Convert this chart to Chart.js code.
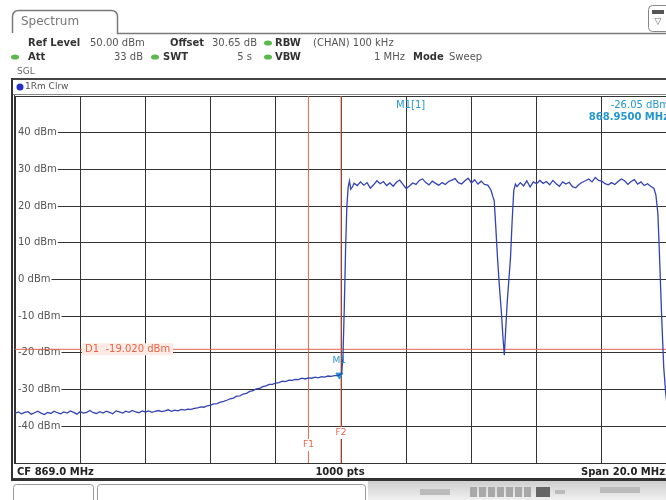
<!DOCTYPE html>
<html>
<head>
<meta charset="utf-8">
<script src="https://cdn.jsdelivr.net/npm/chart.js@4.4.0/dist/chart.umd.min.js"></script>
<style>
  html, body { margin: 0; padding: 0; background: #fff; overflow: hidden; width: 666px; height: 500px; }
  #wrap { width: 672px; height: 500px; }
</style>
</head>
<body>
<div id="wrap"><canvas id="spec" width="672" height="500"></canvas></div>
<script>
// axis setup (CF 869 MHz, span 20 MHz, ref level 50 dBm)
const freqMin = 859, freqMax = 879, freqStep = 2;
const levelMin = -50, levelMax = 50, levelStep = 10;
const yTickLabels = [40, 30, 20, 10, 0, -10, -20, -30, -40];

// markers / lines
const m1Freq = 868.95, m1Level = -26.05;
const d1Level = -19.02;
const f1Freq = 868.0, f2Freq = 869.0;

// trace 1
const traceFreq = [
  859.0, 859.1, 859.2, 859.3, 859.4, 859.5, 859.6, 859.7, 859.8, 859.9,
  860.0, 860.1, 860.2, 860.3, 860.4, 860.5, 860.6, 860.7, 860.8, 860.9,
  861.0, 861.1, 861.2, 861.3, 861.4, 861.5, 861.6, 861.7, 861.8, 861.9,
  862.0, 862.1, 862.2, 862.3, 862.4, 862.5, 862.6, 862.7, 862.8, 862.9,
  863.0, 863.1, 863.2, 863.3, 863.4, 863.5, 863.6, 863.7, 863.8, 863.9,
  864.0, 864.1, 864.2, 864.3, 864.4,
  864.5, 864.6, 864.7, 864.8, 864.9, 865.0, 865.1, 865.2, 865.3, 865.4,
  865.5, 865.6, 865.7, 865.8, 865.9, 866.0, 866.1, 866.2, 866.3, 866.4,
  866.5, 866.6, 866.7, 866.8, 866.9, 867.0, 867.1, 867.2, 867.3, 867.4,
  867.5, 867.6, 867.7, 867.8, 867.9, 868.0, 868.1, 868.2, 868.3, 868.4,
  868.5, 868.6, 868.7, 868.8, 868.9,
  868.95, 869.02, 869.06, 869.1, 869.14, 869.18, 869.22, 869.26, 869.3,
  869.35, 869.4, 869.5, 869.6, 869.7, 869.8, 869.9, 870.0, 870.1, 870.2,
  870.3, 870.4, 870.5, 870.6, 870.7, 870.8, 870.9, 871.0, 871.1, 871.2,
  871.3, 871.4, 871.5, 871.6, 871.7, 871.8, 871.9, 872.0, 872.1, 872.2,
  872.3, 872.4, 872.5, 872.6, 872.7, 872.8, 872.9, 873.0, 873.1, 873.2,
  873.3, 873.4, 873.5, 873.6, 873.66,
  873.7, 873.75, 873.8, 873.86, 873.92, 873.97, 874.01, 874.05, 874.1, 874.15,
  874.2, 874.25, 874.3, 874.35,
  874.4, 874.5, 874.6, 874.7, 874.8, 874.9, 875.0, 875.1, 875.2, 875.3,
  875.4, 875.5, 875.6, 875.7, 875.8, 875.9, 876.0, 876.1, 876.2, 876.3,
  876.4, 876.5, 876.6, 876.7, 876.8, 876.9, 877.0, 877.1, 877.2, 877.3,
  877.4, 877.5, 877.6, 877.7, 877.8, 877.9, 878.0, 878.1, 878.2, 878.3,
  878.4, 878.5, 878.6, 878.66, 878.72, 878.76, 878.8, 878.84, 878.9, 878.96,
  879.0
];
const traceLevel = [
  -36.5, -36.1, -36.6, -36.2, -36.0, -36.7, -36.3, -35.9, -36.4, -36.8,
  -36.2, -36.5, -35.9, -36.3, -36.6, -36.1, -36.4, -35.8, -36.2, -36.7,
  -36.0, -36.4, -36.2, -35.7, -36.3, -36.5, -36.0, -36.4, -35.9, -36.2,
  -36.6, -35.8, -36.1, -36.4, -35.9, -36.2, -35.7, -36.1, -36.3, -35.8,
  -36.1, -35.8, -36.2, -35.9, -35.7, -36.0, -35.8, -35.5, -35.9, -35.6,
  -35.8, -35.4, -35.6, -35.3, -35.4,
  -35.1, -35.0, -34.7, -34.8, -34.4, -34.2, -33.9, -33.8, -33.4, -33.2,
  -32.9, -32.5, -32.3, -31.8, -31.7, -31.2, -31.0, -30.5, -30.3, -29.8,
  -29.7, -29.2, -29.0, -28.6, -28.6, -28.2, -28.1, -27.7, -27.8, -27.4,
  -27.5, -27.2, -27.3, -26.9, -27.1, -26.8, -26.9, -26.6, -26.8, -26.5,
  -26.6, -26.3, -26.4, -26.2, -26.2,
  -26.05, -25.7, -21.0, -8.0, 8.0, 20.0, 25.2, 26.9, 24.6,
  25.2, 26.2, 25.6, 26.6, 25.7, 26.4, 24.9, 25.8, 26.9, 26.1,
  26.7, 25.6, 26.3, 25.4, 26.5, 27.1, 25.9, 24.8, 25.5, 26.3,
  25.9, 27.0, 27.4, 26.4, 25.8, 26.8, 26.2, 25.7, 26.4, 25.9,
  26.7, 27.1, 27.5, 26.4, 26.0, 26.9, 27.6, 26.3, 27.2, 26.0,
  26.8, 25.9, 25.7, 24.4, 22.5,
  21.5, 14.0, 6.0, -2.0, -9.0, -16.0, -20.6, -14.0, -6.0, 0.0,
  6.0, 16.0, 24.2, 26.0,
  25.3, 26.4, 25.5, 26.9, 25.2, 26.6, 26.1, 27.0, 26.2, 26.7,
  25.8, 27.0, 26.1, 25.4, 26.6, 26.0, 26.5, 25.3, 25.0, 25.9,
  26.5, 26.9, 27.4, 26.6, 27.8, 27.0, 26.8, 26.1, 25.8, 26.4,
  25.9, 26.7, 27.4, 26.9, 25.9, 26.7, 27.2, 26.0, 26.6, 25.6,
  26.1, 25.4, 24.8, 23.0, 18.0, 9.0, -1.0, -11.0, -24.0, -31.0,
  -34.0
];

const red = '#e2664a';
const cyan = '#2497cf';
const gridColor = '#333333';
const font = 'DejaVu Sans';

function dot(ctx, x, y) {
  ctx.fillStyle = '#5cb84c';
  ctx.beginPath();
  ctx.ellipse(x, y, 4, 2.6, 0, 0, Math.PI * 2);
  ctx.fill();
}

function txt(ctx, s, x, y, opts) {
  opts = opts || {};
  ctx.font = (opts.bold ? 'bold ' : '') + (opts.size || 10) + 'px ' + font;
  ctx.fillStyle = opts.color || '#444';
  ctx.textAlign = opts.align || 'left';
  ctx.textBaseline = 'middle';
  ctx.fillText(s, x, y);
}

const screenPlugin = {
  id: 'screen',
  beforeDraw(chart) {
    const ctx = chart.ctx;
    const W = chart.width;
    ctx.save();
    ctx.fillStyle = '#fff';
    ctx.fillRect(0, 0, W, chart.height);

    // tab
    ctx.strokeStyle = '#7a7a7a';
    ctx.lineWidth = 1.5;
    ctx.beginPath();
    ctx.moveTo(12.5, 33);
    ctx.lineTo(12.5, 17);
    ctx.quadraticCurveTo(12.5, 10.5, 19, 10.5);
    ctx.lineTo(111, 10.5);
    ctx.quadraticCurveTo(117.5, 10.5, 117.5, 17);
    ctx.lineTo(117.5, 33.5);
    ctx.lineTo(W, 33.5);
    ctx.stroke();
    txt(ctx, 'Spectrum', 21, 22, { size: 12, color: '#777' });

    // small icon top right
    ctx.strokeStyle = '#888';
    ctx.lineWidth = 1;
    ctx.beginPath();
    ctx.roundRect(648.5, 5.5, 24, 26, 4);
    ctx.stroke();
    ctx.fillStyle = '#555';
    ctx.fillRect(652, 10, 12, 4);
    txt(ctx, '\u25BD', 658, 22, { size: 9, color: '#666', align: 'center' });

    // header rows
    txt(ctx, 'Ref Level', 28, 43, { bold: true, color: '#333' });
    txt(ctx, '50.00 dBm', 90, 43, { color: '#555' });
    txt(ctx, 'Offset', 170, 43, { bold: true, color: '#333' });
    txt(ctx, '30.65 dB', 212, 43, { color: '#555' });
    dot(ctx, 268, 43);
    txt(ctx, 'RBW', 275, 43, { bold: true, color: '#333' });
    txt(ctx, '(CHAN) 100 kHz', 313, 43, { color: '#555' });

    dot(ctx, 15, 57);
    txt(ctx, 'Att', 28, 57, { bold: true, color: '#333' });
    txt(ctx, '33 dB', 143, 57, { color: '#555', align: 'right' });
    dot(ctx, 155, 57);
    txt(ctx, 'SWT', 163, 57, { bold: true, color: '#333' });
    txt(ctx, '5 s', 252, 57, { color: '#555', align: 'right' });
    dot(ctx, 268, 57);
    txt(ctx, 'VBW', 275, 57, { bold: true, color: '#333' });
    txt(ctx, '1 MHz', 405, 57, { color: '#555', align: 'right' });
    txt(ctx, 'Mode', 413, 57, { bold: true, color: '#333' });
    txt(ctx, 'Sweep', 449, 57, { color: '#555' });

    txt(ctx, 'SGL', 17, 72, { size: 9, color: '#666' });

    // trace label strip
    ctx.fillStyle = '#444';
    ctx.fillRect(12, 78, W - 12, 2);
    ctx.fillStyle = '#888';
    ctx.fillRect(12, 94, W - 12, 1);
    ctx.fillStyle = '#2233c4';
    ctx.beginPath();
    ctx.arc(20, 87, 3.5, 0, Math.PI * 2);
    ctx.fill();
    txt(ctx, '1Rm Clrw', 25, 87, { size: 9, color: '#555' });

    // frame around plot
    ctx.fillStyle = '#333';
    ctx.fillRect(11, 78, 2, 402);
    ctx.fillRect(14, 95, 1, 369);

    // footer
    ctx.fillStyle = '#333';
    ctx.fillRect(14, 463, W - 14, 1);
    txt(ctx, 'CF 869.0 MHz', 17, 472, { bold: true, color: '#222' });
    txt(ctx, '1000 pts', 340, 472, { bold: true, color: '#222', align: 'center' });
    txt(ctx, 'Span 20.0 MHz', 665, 472, { bold: true, color: '#222', align: 'right' });
    ctx.fillStyle = '#333';
    ctx.fillRect(11, 478, W - 11, 3);

    // status bar
    ctx.strokeStyle = '#999';
    ctx.lineWidth = 1;
    ctx.beginPath();
    ctx.roundRect(13.5, 484.5, 80, 22, 3);
    ctx.stroke();
    ctx.beginPath();
    ctx.roundRect(97.5, 484.5, 268, 22, 3);
    ctx.stroke();
    const g = ctx.createLinearGradient(0, 481, 0, 500);
    g.addColorStop(0, '#cfcfcf');
    g.addColorStop(1, '#f0f0f0');
    ctx.fillStyle = g;
    ctx.fillRect(368, 481, W - 368, 19);
    ctx.fillStyle = '#a8a8a8';
    for (let i = 0; i < 7; i++) ctx.fillRect(470 + i * 9, 487, 7, 10);
    ctx.fillStyle = '#666';
    ctx.fillRect(536, 487, 14, 10);
    ctx.fillStyle = '#bbb';
    ctx.fillRect(555, 490, 10, 4);
    ctx.fillRect(420, 489, 30, 6);
    ctx.fillRect(600, 487, 40, 6);
    ctx.restore();
  },
  beforeDatasetsDraw(chart) {
    const ctx = chart.ctx;
    const y = chart.scales.y;
    ctx.save();
    ctx.font = '10px ' + font;
    yTickLabels.forEach(v => {
      const py = y.getPixelForValue(v);
      const s = v + ' dBm';
      const w = ctx.measureText(s).width;
      ctx.fillStyle = '#fff';
      ctx.fillRect(16, py - 6, w + 3, 12);
      txt(ctx, s, 18, py, { color: '#555' });
    });
    ctx.restore();
  },
  afterDatasetsDraw(chart) {
    const ctx = chart.ctx;
    const x = chart.scales.x, y = chart.scales.y;
    ctx.save();

    // D1 label
    const dy = y.getPixelForValue(d1Level);
    ctx.fillStyle = '#fdeae4';
    ctx.fillRect(82, dy - 6, 91, 12);
    txt(ctx, 'D1  -19.020 dBm', 85, dy, { color: red });

    // F1 / F2 labels
    [[f1Freq, 'F1', 445], [f2Freq, 'F2', 433]].forEach(([f, s, py]) => {
      const px = x.getPixelForValue(f);
      ctx.fillStyle = '#fff';
      ctx.fillRect(px - 7, py - 6, 14, 12);
      txt(ctx, s, px, py, { size: 9, color: red, align: 'center' });
    });

    // M1 label
    const mx = x.getPixelForValue(m1Freq);
    const my = y.getPixelForValue(m1Level);
    txt(ctx, 'M1', mx, my - 14, { size: 9, color: cyan, align: 'center' });

    // marker readout
    txt(ctx, 'M1[1]', 396, 105, { color: cyan });
    txt(ctx, '-26.05 dBm', 669, 105, { color: cyan, align: 'right' });
    txt(ctx, '868.9500 MHz', 669, 117, { bold: true, color: cyan, align: 'right' });
    ctx.restore();
  }
};

const tracePoints = traceFreq.map((f, i) => ({ x: f, y: traceLevel[i] }));

new Chart(document.getElementById('spec'), {
  type: 'line',
  data: {
    datasets: [
      {
        label: '1Rm Clrw',
        data: tracePoints,
        borderColor: '#3343b3',
        borderWidth: 1.3,
        pointRadius: 0,
        tension: 0
      },
      {
        label: 'M1',
        data: [{ x: m1Freq, y: m1Level }],
        showLine: false,
        pointStyle: 'triangle',
        rotation: 180,
        pointRadius: 4,
        backgroundColor: cyan,
        borderColor: cyan
      },
      {
        label: 'D1',
        data: [{ x: freqMin, y: d1Level }, { x: freqMax, y: d1Level }],
        borderColor: red,
        borderWidth: 1,
        pointRadius: 0
      },
      {
        label: 'F1',
        data: [{ x: f1Freq, y: levelMin }, { x: f1Freq, y: levelMax }],
        borderColor: red,
        borderWidth: 1,
        pointRadius: 0
      },
      {
        label: 'F2',
        data: [{ x: f2Freq, y: levelMin }, { x: f2Freq, y: levelMax }],
        borderColor: red,
        borderWidth: 1,
        pointRadius: 0
      }
    ]
  },
  options: {
    responsive: false,
    animation: false,
    layout: { padding: { left: 15, top: 96, right: 1, bottom: 37 } },
    plugins: {
      legend: { display: false },
      tooltip: { enabled: false }
    },
    scales: {
      x: {
        type: 'linear',
        min: freqMin,
        max: freqMax,
        ticks: { display: false, stepSize: freqStep },
        grid: { color: gridColor, lineWidth: 1, drawTicks: false },
        border: { display: false },
        afterFit: s => { s.height = 0; }
      },
      y: {
        min: levelMin,
        max: levelMax,
        ticks: { display: false, stepSize: levelStep },
        grid: { color: gridColor, lineWidth: 1, drawTicks: false },
        border: { display: false },
        afterFit: s => { s.width = 0; }
      }
    }
  },
  plugins: [screenPlugin]
});
</script>
</body>
</html>
